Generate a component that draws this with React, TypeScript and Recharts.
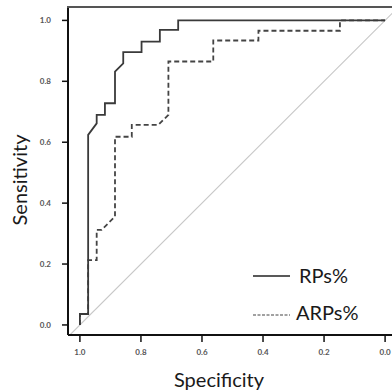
import React from "react";
import {
  LineChart, Line, XAxis, YAxis, ReferenceLine, Label,
} from "recharts";

// ROC curves, specificity runs 1.0 -> 0.0 left to right
const rpSpec = [1.0, 1.0, 0.973, 0.973, 0.945, 0.945, 0.918, 0.918, 0.885, 0.885, 0.858, 0.858, 0.798, 0.798, 0.738, 0.738, 0.678, 0.678, 0.0];
const rpSens = [0, 0.036, 0.036, 0.624, 0.662, 0.69, 0.69, 0.728, 0.728, 0.832, 0.859, 0.896, 0.896, 0.93, 0.93, 0.969, 0.969, 1.0, 1.0];

const arpSpec = [1.0, 1.0, 0.973, 0.973, 0.945, 0.945, 0.929, 0.885, 0.885, 0.83, 0.83, 0.743, 0.71, 0.71, 0.563, 0.563, 0.415, 0.415, 0.148, 0.148, 0.148, 0.0];
const arpSens = [0, 0.036, 0.036, 0.213, 0.213, 0.312, 0.312, 0.356, 0.618, 0.618, 0.657, 0.657, 0.69, 0.865, 0.865, 0.934, 0.934, 0.966, 0.966, 0.985, 1.0, 1.0];

const ticks = [0, 0.2, 0.4, 0.6, 0.8, 1.0];
const seriesNames = ["RPs%", "ARPs%"];

const rpData = rpSpec.map((s, i) => ({ spec: s, sens: rpSens[i] }));
const arpData = arpSpec.map((s, i) => ({ spec: s, sens: arpSens[i] }));

const FONT = "Lato, 'Open Sans', sans-serif";
const tickStyle = { fill: "#555", fontSize: 8, fontFamily: FONT, fontWeight: 700 };
const X_MIN = -0.039, X_MAX = 1.039;
const Y_MIN = -0.033, Y_MAX = 1.044;

// legend drawn as an overlay so it doesn't eat into the plot area
const LegendBox = () => (
  <div style={{
    position: "absolute", left: 253, top: 257, fontFamily: FONT, fontSize: 20,
    color: "#1a1a1a", lineHeight: "37px",
  }}>
    <div style={{ display: "flex", alignItems: "center" }}>
      <svg width={46} height={10}><line x1={0} y1={5} x2={37} y2={5} stroke="#222" strokeWidth={1.4} /></svg>
      <span>{seriesNames[0]}</span>
    </div>
    <div style={{ display: "flex", alignItems: "center" }}>
      <svg width={43} height={14}><line x1={0} y1={9} x2={37} y2={9} stroke="#444" strokeWidth={1.2} strokeDasharray="3 1.5" /></svg>
      <span>{seriesNames[1]}</span>
    </div>
  </div>
);

export default function App() {
  return (
    <div style={{ position: "absolute", left: 0, top: 0, width: 392, height: 392, overflow: "hidden", background: "#fff" }}>
      <LineChart width={410} height={392} margin={{ top: 7, right: 13, left: 0, bottom: 0 }}>
        <XAxis
          type="number"
          dataKey="spec"
          domain={[X_MIN, X_MAX]}
          reversed
          ticks={ticks}
          tickFormatter={(v: number) => v.toFixed(1)}
          tick={tickStyle}
          tickSize={7}
          tickMargin={7}
          height={57}
          axisLine={{ stroke: "#111", strokeWidth: 2 }}
          tickLine={{ stroke: "#111", strokeWidth: 1.5 }}
          allowDataOverflow
        >
          <Label
            content={() => (
              <text x={219} y={379} textAnchor="middle" dominantBaseline="central"
                style={{ fontFamily: FONT, fontSize: 20, fill: "#1a1a1a" }}>Specificity</text>
            )}
          />
        </XAxis>
        <YAxis
          type="number"
          dataKey="sens"
          domain={[Y_MIN, Y_MAX]}
          ticks={ticks}
          tickFormatter={(v: number) => v.toFixed(1)}
          tick={tickStyle}
          tickSize={6}
          tickMargin={11}
          width={68}
          axisLine={{ stroke: "#111", strokeWidth: 2 }}
          tickLine={{ stroke: "#111", strokeWidth: 1.5 }}
          allowDataOverflow
        >
          <Label
            content={(props: any) => {
              const vb = props.viewBox || { x: 0, y: 7, width: 68 };
              const top = vb.y;
              const left = vb.x + vb.width;
              return (
                <g>
                  {/* top edge of the plot frame */}
                  <line x1={left} y1={top} x2={410} y2={top} stroke="#444" strokeWidth={2} />
                  <text x={19} y={180} transform="rotate(-90 19 180)" textAnchor="middle" dominantBaseline="central"
                    style={{ fontFamily: FONT, fontSize: 20, fill: "#1a1a1a" }}>Sensitivity</text>
                </g>
              );
            }}
          />
        </YAxis>
        <ReferenceLine
          segment={[{ x: X_MAX, y: 1 - X_MAX }, { x: X_MIN, y: 1 - X_MIN }]}
          stroke="#c8c8c8"
          strokeWidth={1.2}
          ifOverflow="hidden"
        />
        <Line data={arpData} dataKey="sens" type="linear" stroke="#444" strokeWidth={1.8}
          strokeDasharray="5 3" dot={false} isAnimationActive={false} />
        <Line data={rpData} dataKey="sens" type="linear" stroke="#3a3a3a" strokeWidth={1.8}
          dot={false} isAnimationActive={false} />
      </LineChart>
      {/* fallback for the frame's top edge */}
      <div style={{ position: "absolute", left: 67, top: 6, width: 340, height: 2, background: "#555" }} />
      <LegendBox />
    </div>
  );
}
